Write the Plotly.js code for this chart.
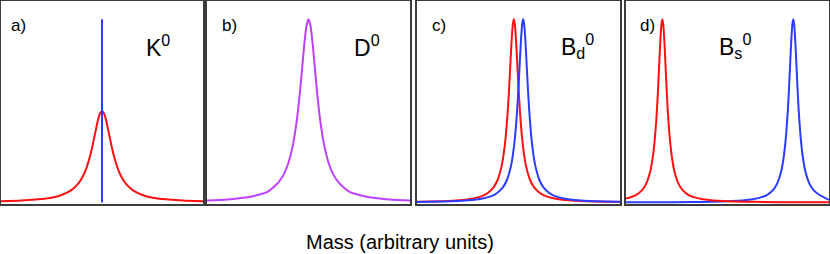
<!DOCTYPE html>
<html>
<head>
<meta charset="utf-8">
<script src="https://cdn.plot.ly/plotly-3.0.1.min.js"></script>
<style>html,body{margin:0;padding:0;background:#fff;}#chart{width:830px;height:254px;}</style>
</head>
<body>
<div id="chart"></div>
<script>
// Panel labels and particle names
const panelLabels = ["a)", "b)", "c)", "d)"];
const particleNames = ["K<sup>0</sup>", "D<sup>0</sup>", "B<sub>d</sub><sup>0</sup>", "B<sub>s</sub><sup>0</sup>"];
const axisTitle = "Mass (arbitrary units)";

// Panel a: K0
const aRedX = [0,10,20,25,30,35,38,40,42,44,45,46,47,48,49,50,51,52,53,54,55,56,58,60,62,65,70,75,80,90,100];
const aRedY = [0.7,1.1,1.9,2.6,4.1,6.9,10.0,13.2,18.0,25.0,29.5,34.6,40.0,45.0,48.6,50,48.6,45.0,40.0,34.6,29.5,25.0,18.0,13.2,10.0,6.9,4.1,2.6,1.9,1.1,0.7];
const aBlueX = [50,50];
const aBlueY = [0,100];

// Panel b: D0
const bX = [0,10,20,25,30,35,38,40,42,44,45,46,47,48,49,50,51,52,53,54,55,56,58,60,62,65,70,75,80,90,100];
const bY = [1.1,1.7,2.9,4.1,6.0,10.7,15.8,21.3,29.7,42.9,51.9,62.8,75.0,87.1,96.4,100,96.4,87.1,75.0,62.8,51.9,42.9,29.7,21.3,15.8,10.7,6.0,4.1,2.9,1.7,1.1];

// Panel c: Bd0
const cRedX = [0,7.7,17.7,22.7,27.7,31.7,34.7,37.7,39.7,41.7,42.7,43.7,44.7,45.2,45.7,46.2,46.7,47.2,47.7,48.2,48.7,49.2,49.7,50.2,50.7,51.7,52.7,53.7,55.7,57.7,60.7,63.7,67.7,72.7,77.7,87.7,100];
const cRedY = [0.39,0.56,1.0,1.4,2.2,3.4,5.1,8.3,12.3,20.0,26.5,36.0,50,59.0,69.2,80.0,90.0,97.3,100,97.3,90.0,80.0,69.2,59.0,50,36.0,26.5,20.0,12.3,8.3,5.1,3.4,2.2,1.4,1.0,0.56,0.33];
const cBlueX = [0,12.3,22.3,27.3,32.3,36.3,39.3,42.3,44.3,46.3,47.3,48.3,49.3,49.8,50.3,50.8,51.3,51.8,52.3,52.8,53.3,53.8,54.3,54.8,55.3,56.3,57.3,58.3,60.3,62.3,65.3,68.3,72.3,77.3,82.3,92.3,100];
const cBlueY = [0.33,0.56,1.0,1.4,2.2,3.4,5.1,8.3,12.3,20.0,26.5,36.0,50,59.0,69.2,80.0,90.0,97.3,100,97.3,90.0,80.0,69.2,59.0,50,36.0,26.5,20.0,12.3,8.3,5.1,3.4,2.2,1.4,1.0,0.56,0.39];

// Panel d: Bs0
const dRedX = [0,4.9,7.9,9.9,11.9,12.9,13.9,14.9,15.4,15.9,16.4,16.9,17.4,17.9,18.4,18.9,19.4,19.9,20.4,20.9,21.9,22.9,23.9,25.9,27.9,30.9,33.9,37.9,42.9,47.9,57.9,67.9,82.9,100];
const dRedY = [2.2,4.1,6.8,10.2,16.8,22.6,31.3,44.7,53.8,64.6,76.4,88.0,96.7,100,96.7,88.0,76.4,64.6,53.8,44.7,31.3,22.6,16.8,10.2,6.8,4.1,2.8,1.8,1.15,0.8,0.45,0.29,0.17,0.11];
const dBlueX = [0,14.4,32.4,42.4,52.4,57.4,62.4,66.4,69.4,72.4,74.4,76.4,77.4,78.4,79.4,79.9,80.4,80.9,81.4,81.9,82.4,82.9,83.4,83.9,84.4,84.9,85.4,86.4,87.4,88.4,90.4,92.4,95.4,100];
const dBlueY = [0.11,0.16,0.29,0.45,0.8,1.15,1.8,2.8,4.1,6.8,10.2,16.8,22.6,31.3,44.7,53.8,64.6,76.4,88.0,96.7,100,96.7,88.0,76.4,64.6,53.8,44.7,31.3,22.6,16.8,10.2,6.8,4.1,1.5];

const RED = "#ff1010", BLUE = "#2a3cff", PURPLE = "#bf40ff";

function tr(x, y, color, ax) {
  return {x: x, y: y, type: "scatter", mode: "lines", line: {color: color, width: 2, shape: "spline", smoothing: 0.6},
          xaxis: "x" + (ax === 1 ? "" : ax), yaxis: "y" + (ax === 1 ? "" : ax), hoverinfo: "skip", showlegend: false};
}

const data = [
  tr(aRedX, aRedY, RED, 1),
  Object.assign(tr(aBlueX, aBlueY, BLUE, 1), {line: {color: BLUE, width: 2}}),
  tr(bX, bY, PURPLE, 2),
  tr(cRedX, cRedY, RED, 3),
  tr(cBlueX, cBlueY, BLUE, 3),
  tr(dBlueX, dBlueY, BLUE, 4),
  tr(dRedX, dRedY, RED, 4)
];

const W = 830, H = 254;
const xDomPx = [[1, 203], [207, 410], [417, 620], [626, 829]];
const yDom = [50 / H, 253 / H];

function xa(i) {
  return {domain: [xDomPx[i][0] / W, xDomPx[i][1] / W], range: [0, 100], showticklabels: false, ticks: "",
          showgrid: false, zeroline: false, showline: true, mirror: true, linecolor: "#3c3c3c", linewidth: 2,
          anchor: "y" + (i === 0 ? "" : i + 1), fixedrange: true};
}
function ya(i) {
  return {domain: yDom, range: [-0.8, 110], showticklabels: false, ticks: "",
          showgrid: false, zeroline: false, showline: true, mirror: true, linecolor: "#3c3c3c", linewidth: 2,
          anchor: "x" + (i === 0 ? "" : i + 1), fixedrange: true};
}

const labelPos = [0.042, 0.062, 0.062, 0.057];
const namePos = [0.71, 0.716, 0.70, 0.446];
const annotations = [];
for (let i = 0; i < 4; i++) {
  const sfx = i === 0 ? "" : String(i + 1);
  annotations.push({text: panelLabels[i], xref: "x" + sfx + " domain", yref: "y" + sfx + " domain",
    x: labelPos[i], y: 0.88, xanchor: "left", yanchor: "middle", showarrow: false,
    font: {family: "Liberation Sans, Arial, sans-serif", size: 17, color: "#000"}});
  annotations.push({text: particleNames[i], xref: "x" + sfx + " domain", yref: "y" + sfx + " domain",
    x: namePos[i], y: 0.78, xanchor: "left", yanchor: "middle", showarrow: false,
    font: {family: "Liberation Sans, Arial, sans-serif", size: 23, color: "#000"}});
}
annotations.push({text: axisTitle, xref: "paper", yref: "paper", x: 400 / W, y: 12 / H,
  xanchor: "center", yanchor: "middle", showarrow: false,
  font: {family: "Liberation Sans, Arial, sans-serif", size: 20, color: "#000"}});

const layout = {
  width: W, height: H, margin: {l: 0, r: 0, t: 0, b: 0},
  paper_bgcolor: "#fff", plot_bgcolor: "#fff",
  xaxis: xa(0), xaxis2: xa(1), xaxis3: xa(2), xaxis4: xa(3),
  yaxis: ya(0), yaxis2: ya(1), yaxis3: ya(2), yaxis4: ya(3),
  annotations: annotations, showlegend: false
};

Plotly.newPlot("chart", data, layout, {displayModeBar: false});
</script>
</body>
</html>
